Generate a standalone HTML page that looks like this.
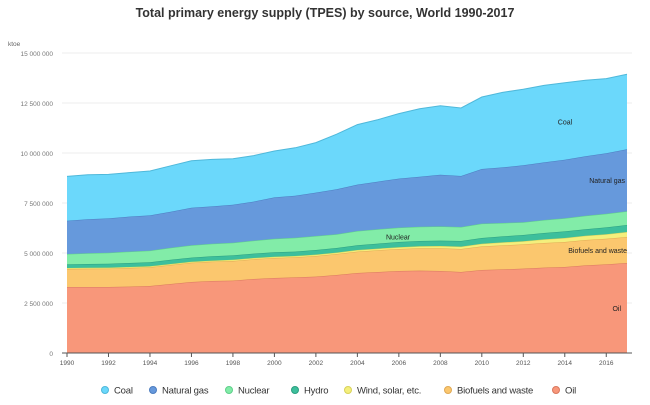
<!DOCTYPE html>
<html><head><meta charset="utf-8"><style>
body{margin:0;background:#fff;font-family:"Liberation Sans",sans-serif}
svg text{font-family:"Liberation Sans",sans-serif}
</style></head><body>
<svg id="c" width="650" height="400">
<text x="325" y="17" text-anchor="middle" font-size="12.5" font-weight="bold" fill="#333">Total primary energy supply (TPES) by source, World 1990-2017</text>
<text x="8" y="46" font-size="6.5" fill="#666">ktoe</text>
<g id="grid"></g><g id="areas"></g><g id="axes"></g><g id="legend"></g>
</svg>
<script>
const years=[1990,1991,1992,1993,1994,1995,1996,1997,1998,1999,2000,2001,2002,2003,2004,2005,2006,2007,2008,2009,2010,2011,2012,2013,2014,2015,2016,2017];
const oil=[3.3,3.3,3.3,3.32,3.35,3.45,3.55,3.6,3.62,3.7,3.75,3.78,3.82,3.9,4.0,4.05,4.1,4.12,4.1,4.05,4.15,4.18,4.22,4.27,4.3,4.38,4.43,4.5];
const biofuels=[0.9,0.91,0.92,0.93,0.94,0.95,0.96,0.97,0.98,0.99,1.0,1.01,1.03,1.05,1.07,1.09,1.1,1.12,1.14,1.15,1.18,1.2,1.21,1.23,1.25,1.27,1.28,1.3];
const wind=[0.05,0.05,0.05,0.05,0.05,0.05,0.05,0.05,0.06,0.06,0.06,0.06,0.07,0.07,0.08,0.08,0.09,0.1,0.11,0.12,0.13,0.15,0.16,0.18,0.2,0.21,0.23,0.25];
const hydro=[0.18,0.19,0.19,0.2,0.2,0.21,0.21,0.22,0.22,0.22,0.23,0.22,0.23,0.23,0.24,0.25,0.26,0.26,0.27,0.28,0.29,0.3,0.31,0.32,0.33,0.33,0.34,0.35];
const nuclear=[0.52,0.54,0.55,0.57,0.58,0.6,0.62,0.62,0.63,0.65,0.67,0.69,0.7,0.69,0.71,0.72,0.72,0.71,0.71,0.7,0.72,0.67,0.64,0.65,0.66,0.67,0.68,0.69];
const gas=[1.66,1.7,1.72,1.75,1.76,1.8,1.87,1.87,1.9,1.95,2.07,2.1,2.17,2.25,2.32,2.38,2.45,2.5,2.58,2.55,2.73,2.78,2.85,2.88,2.92,2.98,3.03,3.1];
const coal=[2.22,2.22,2.2,2.2,2.22,2.3,2.35,2.35,2.3,2.3,2.32,2.4,2.5,2.75,3.0,3.1,3.25,3.4,3.45,3.4,3.6,3.75,3.8,3.85,3.85,3.8,3.73,3.75];
const yTicks=[0,2.5,5,7.5,10,12.5,15];
const yTickLabels=["0","2 500 000","5 000 000","7 500 000","10 000 000","12 500 000","15 000 000"];
const xTicks=[1990,1992,1994,1996,1998,2000,2002,2004,2006,2008,2010,2012,2014,2016];
const seriesNames=["Oil","Biofuels and waste","Wind, solar, etc.","Hydro","Nuclear","Natural gas","Coal"];
const series=[oil,biofuels,wind,hydro,nuclear,gas,coal];
const fills=["#f8977a","#fbc76e","#f4ef7c","#3dbf9c","#82eca8","#6699dc","#6bd8fb"];
const strokes=["#d9785e","#e0a955","#d8d25a","#2c9f80","#5fcf8a","#4d7dc0","#4fb8da"];
const NS="http://www.w3.org/2000/svg";
const x0=67,x1=627,y0=353,yTop=53;
const X=y=>x0+(y-1990)*(x1-x0)/(2017-1990);
const Y=v=>y0-(v/15)*(y0-yTop);
function mk(tag,attrs,parent){const e=document.createElementNS(NS,tag);for(const k in attrs)e.setAttribute(k,attrs[k]);parent.appendChild(e);return e;}
const grid=document.getElementById('grid'),axes=document.getElementById('axes'),areas=document.getElementById('areas'),legend=document.getElementById('legend');
yTicks.forEach((t,i)=>{
  if(t>0){const l=mk('line',{x1:62,x2:632,y1:Y(t),y2:Y(t),stroke:'#eee','stroke-width':1},grid);
  
  }
  const tx=mk('text',{x:53,y:Y(t)+3,'text-anchor':'end','font-size':6.5,fill:'#777'},axes);tx.textContent=yTickLabels[i];
  
  
});
let base=years.map(()=>0);
series.forEach((s,si)=>{
  const top=base.map((b,i)=>b+s[i]);
  let d='M'+years.map((y,i)=>X(y)+','+Y(top[i])).join('L');
  for(let i=years.length-1;i>=0;i--)d+='L'+X(years[i])+','+Y(base[i]);
  d+='Z';
  const p=mk('path',{d:d,fill:fills[si]},areas);
  
  
  const ln=mk('path',{d:'M'+years.map((y,i)=>X(y)+','+Y(top[i])).join('L'),fill:'none',stroke:strokes[si],'stroke-width':1},areas);
  
  
  base=top;
});
const cum=[];let b2=years.map(()=>0);series.forEach(s=>{const t=b2.map((b,i)=>b+s[i]);cum.push([b2,t]);b2=t;});
function mid(si,yr){const i=years.indexOf(yr);return Y((cum[si][0][i]+cum[si][1][i])/2);}
const labs=[[0,"Oil",621,2016.5,"end"],[1,"Biofuels and waste",627,2017,"end"],[4,"Nuclear",398,2005,"middle"],[5,"Natural gas",625,2016.5,"end"],[6,"Coal",565,2014,"middle"]];
labs.forEach(l=>{const t=mk('text',{x:l[2],y:mid(l[0],Math.round(l[3]))+3,'text-anchor':l[4],'font-size':7,fill:'#222'},areas);t.textContent=l[1];
  
  });
const ax=mk('line',{x1:62,x2:632,y1:y0,y2:y0,stroke:'#555','stroke-width':1},axes);


xTicks.forEach(t=>{
  const tk=mk('line',{x1:X(t),x2:X(t),y1:y0,y2:y0+4,stroke:'#555'},axes);
  
  
  const tx=mk('text',{x:X(t),y:y0+12,'text-anchor':'middle','font-size':6.5,fill:'#555'},axes);tx.textContent=t;
  
  
});
const legOrder=[6,5,4,3,2,1,0];const legX=[105,153,229,295,348,448,556];
legOrder.forEach((si,k)=>{
  const g=mk('g',{},legend);
  
  
  mk('circle',{cx:legX[k],cy:390,r:3.5,fill:fills[si],stroke:strokes[si]},g);
  const t=mk('text',{x:legX[k]+9,y:393.5,'font-size':9.5,'letter-spacing':'-0.2',fill:'#333'},g);t.textContent=seriesNames[si];
});
</script>
</body></html>
